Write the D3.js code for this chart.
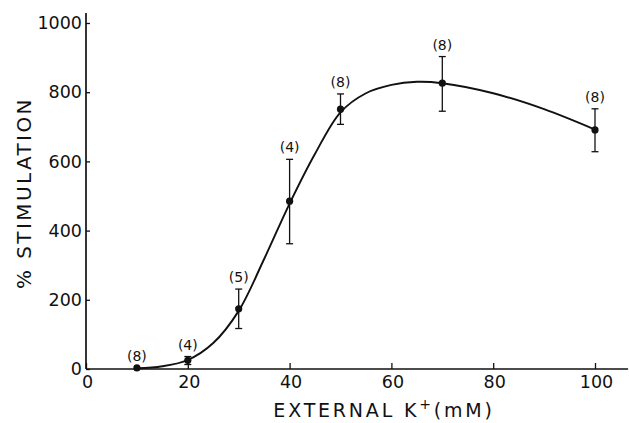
<!DOCTYPE html>
<html>
<head>
<meta charset="utf-8">
<script src="https://cdn.jsdelivr.net/npm/d3@7"></script>
<style>
  body { margin: 0; background: #fff; }
  svg { display: block; }
  .axis text { font-family: "DejaVu Sans", sans-serif; font-size: 17.5px; fill: #111; }
  .axis line, .axis path { stroke: #111; }
</style>
</head>
<body>
<script>
// measured points
var conc = [10, 20, 30, 40, 50, 70, 100];
var stim = [3, 25, 174, 485, 751, 826, 691];
var errLow = [0, 13, 117, 362, 707, 745, 628];
var errHigh = [3, 36, 231, 606, 795, 903, 752];
var nLabels = ["(8)", "(4)", "(5)", "(4)", "(8)", "(8)", "(8)"];

// smooth curve drawn through the data
var curveX = [10, 15, 20, 25, 30, 35, 40, 45, 50, 55, 60, 65, 70, 80, 90, 100];
var curveY = [2, 8, 26, 75, 168, 318, 478, 622, 742, 797, 821, 830, 826, 797, 751, 692];

var xTicks = [0, 20, 40, 60, 80, 100];
var yTicks = [0, 200, 400, 600, 800, 1000];

var width = 629, height = 423;
var margin = {left: 86, top: 23};
var plotW = 509, plotH = 346;

var svg = d3.select("body").append("svg").attr("width", width).attr("height", height);
var g = svg.append("g").attr("transform", "translate(" + margin.left + "," + margin.top + ")");

var x = d3.scaleLinear().domain([0, 100]).range([0, plotW]);
var y = d3.scaleLinear().domain([0, 1000]).range([plotH, 0]);

// axes
var xAxis = d3.axisBottom(x).tickValues(xTicks).tickFormat(d3.format("d"))
  .tickSizeInner(-6).tickSizeOuter(0).tickPadding(7);
var yAxis = d3.axisLeft(y).tickValues(yTicks).tickFormat(d3.format("d"))
  .tickSizeInner(-4).tickSizeOuter(0).tickPadding(4);

var gx = g.append("g").attr("class", "axis").attr("transform", "translate(0," + plotH + ")").call(xAxis);
var gy = g.append("g").attr("class", "axis").call(yAxis);
gx.select(".domain").remove();
gy.select(".domain").remove();
gx.selectAll(".tick line").attr("stroke-width", 1.3);
gy.selectAll(".tick line").attr("stroke-width", 1.3);
gx.selectAll(".tick text").attr("x", 1);

g.append("line").attr("x1", x(0)).attr("x2", x(106.5)).attr("y1", y(0)).attr("y2", y(0))
  .attr("stroke", "#111").attr("stroke-width", 1.7);
g.append("line").attr("x1", x(0)).attr("x2", x(0)).attr("y1", y(0)).attr("y2", y(1029))
  .attr("stroke", "#111").attr("stroke-width", 1.7);

// axis titles
svg.append("text")
  .attr("x", 384).attr("y", 417)
  .attr("text-anchor", "middle")
  .style("font-family", "DejaVu Sans, sans-serif")
  .style("font-size", "19px").style("letter-spacing", "2.8px").attr("fill", "#111")
  .html('EXTERNAL K<tspan dy="-8" font-size="14px">+</tspan><tspan dy="8">(mM)</tspan>');

svg.append("text")
  .attr("transform", "translate(31,193) rotate(-90)")
  .attr("text-anchor", "middle")
  .style("font-family", "DejaVu Sans, sans-serif")
  .style("font-size", "20px").style("letter-spacing", "2.4px").attr("fill", "#111")
  .text("% STIMULATION");

// fitted curve
var line = d3.line()
  .x(function(d) { return x(d[0]); })
  .y(function(d) { return y(d[1]); })
  .curve(d3.curveCatmullRom.alpha(0.5));

g.append("path")
  .datum(curveX.map(function(v, i) { return [v, curveY[i]]; }))
  .attr("d", line)
  .attr("fill", "none").attr("stroke", "#111").attr("stroke-width", 1.9);

// error bars
var data = conc.map(function(c, i) {
  return {c: c, v: stim[i], lo: errLow[i], hi: errHigh[i], n: nLabels[i]};
});

var bars = g.selectAll(".err").data(data.filter(function(d) { return d.hi - d.lo > 8; }))
  .enter().append("g").attr("class", "err");
bars.append("line")
  .attr("x1", function(d) { return x(d.c); }).attr("x2", function(d) { return x(d.c); })
  .attr("y1", function(d) { return y(d.lo); }).attr("y2", function(d) { return y(d.hi); })
  .attr("stroke", "#111").attr("stroke-width", 1.3);
bars.append("line")
  .attr("x1", function(d) { return x(d.c) - 3.5; }).attr("x2", function(d) { return x(d.c) + 3.5; })
  .attr("y1", function(d) { return y(d.hi); }).attr("y2", function(d) { return y(d.hi); })
  .attr("stroke", "#111").attr("stroke-width", 1.3);
bars.append("line")
  .attr("x1", function(d) { return x(d.c) - 3.5; }).attr("x2", function(d) { return x(d.c) + 3.5; })
  .attr("y1", function(d) { return y(d.lo); }).attr("y2", function(d) { return y(d.lo); })
  .attr("stroke", "#111").attr("stroke-width", 1.3);

// points
g.selectAll(".pt").data(data).enter().append("circle")
  .attr("cx", function(d) { return x(d.c); })
  .attr("cy", function(d) { return y(d.v); })
  .attr("r", 3.6).attr("fill", "#111");

// sample size labels
g.selectAll(".nlab").data(data).enter().append("text")
  .attr("x", function(d) { return x(d.c); })
  .attr("y", function(d) { return y(d.hi) - 7; })
  .attr("text-anchor", "middle")
  .style("font-family", "DejaVu Sans, sans-serif")
  .style("font-size", "14px").attr("fill", "#111")
  .text(function(d) { return d.n; });
</script>
</body>
</html>
